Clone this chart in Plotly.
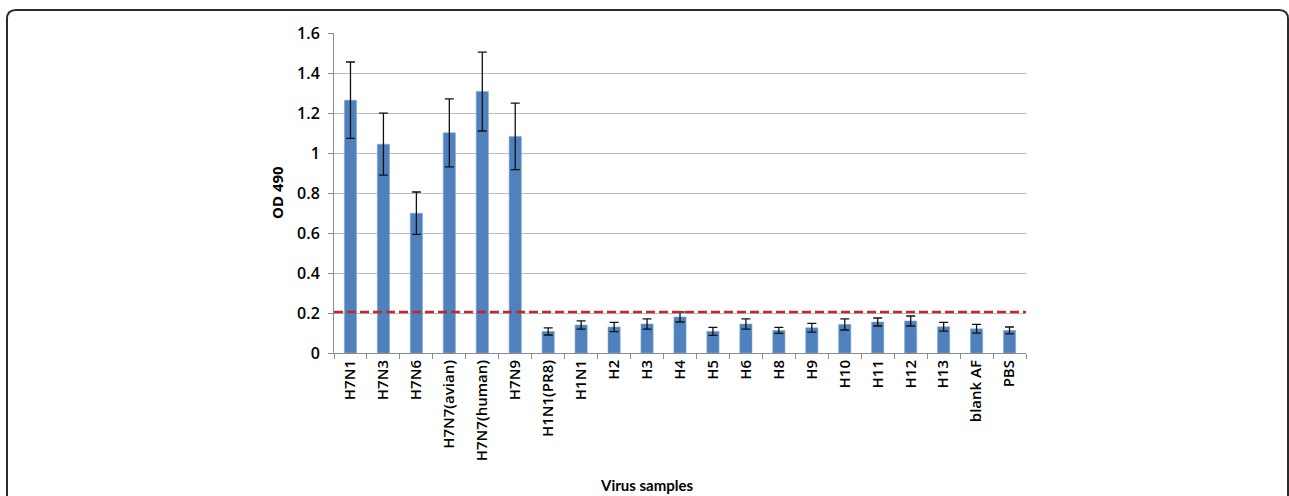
import plotly.graph_objects as go

# Virus samples tested and mean OD490 readings with standard deviations
samples = ["H7N1", "H7N3", "H7N6", "H7N7(avian)", "H7N7(human)", "H7N9",
           "H1N1(PR8)", "H1N1", "H2", "H3", "H4", "H5", "H6", "H8", "H9",
           "H10", "H11", "H12", "H13", "blank AF", "PBS"]
od490 = [1.264, 1.044, 0.699, 1.101, 1.307, 1.083,
         0.108, 0.140, 0.130, 0.145, 0.180, 0.108, 0.145, 0.113, 0.126,
         0.143, 0.155, 0.160, 0.131, 0.121, 0.113]
od490_sd = [0.191, 0.155, 0.106, 0.170, 0.197, 0.166,
            0.018, 0.021, 0.023, 0.026, 0.025, 0.020, 0.026, 0.015, 0.022,
            0.028, 0.020, 0.025, 0.022, 0.022, 0.017]
cutoff = 0.205

y_ticks = [0, 0.2, 0.4, 0.6, 0.8, 1.0, 1.2, 1.4, 1.6]
y_ticktext = ["0", "0.2", "0.4", "0.6", "0.8", "1", "1.2", "1.4", "1.6"]

W, H = 1289, 496
ML, MR, MT, MB = 334, 263, 33, 143
PW, PH = W - ML - MR, H - MT - MB

FONT = "Open Sans, sans-serif"
TITLE_FONT = "Lato, Open Sans, sans-serif"
TXT = "#000000"
AXIS = "#8c8c8c"


def px(x):
    return (x - ML) / PW


def py(y):
    return (H - MB - y) / PH


fig = go.Figure()
fig.add_trace(go.Bar(
    x=samples, y=od490,
    marker=dict(color="#4F81BD", line=dict(color="#86A8D4", width=0.6)),
    error_y=dict(type="data", array=od490_sd, visible=True,
                 color="#111111", thickness=1.3, width=4.5),
    showlegend=False,
))

# positivity cut-off
fig.add_shape(type="line", xref="paper", yref="y", x0=0, x1=1, y0=cutoff, y1=cutoff,
              line=dict(color="#C3272B", width=2.5, dash="9px,4px"), layer="above")

# rounded panel frame
l, t, r, b, rad = 7, 10, 1288, 540, 9
path = (f"M {px(l)},{py(b)} L {px(l)},{py(t + rad)} "
        f"Q {px(l)},{py(t)} {px(l + rad)},{py(t)} "
        f"L {px(r - rad)},{py(t)} "
        f"Q {px(r)},{py(t)} {px(r)},{py(t + rad)} "
        f"L {px(r)},{py(b)}")
fig.add_shape(type="path", xref="paper", yref="paper", path=path,
              line=dict(color="#2b2b2b", width=2))

fig.add_annotation(text="<b>OD 490</b>", xref="paper", yref="paper",
                   x=px(277), y=0.5, textangle=-90, showarrow=False,
                   font=dict(family=FONT, size=15, color=TXT),
                   xanchor="center", yanchor="middle")
fig.add_annotation(text="<b>Virus samples</b>", xref="paper", yref="paper",
                   x=px(647), y=py(485), showarrow=False,
                   font=dict(family=TITLE_FONT, size=15, color=TXT),
                   xanchor="center", yanchor="middle")

fig.update_layout(
    width=W, height=H,
    margin=dict(l=ML, r=MR, t=MT, b=MB),
    paper_bgcolor="white", plot_bgcolor="white",
    bargap=0.63,
    font=dict(family=FONT, size=15, color=TXT),
    xaxis=dict(
        type="category", tickangle=-90, showline=True, linecolor=AXIS, linewidth=1,
        ticks="outside", tickson="boundaries", ticklen=5, tickcolor=AXIS,
        showgrid=False, tickfont=dict(family=FONT, size=15, color=TXT, weight=600),
    ),
    yaxis=dict(
        range=[0, 1.6], tickvals=y_ticks, ticktext=y_ticktext,
        showline=True, linecolor=AXIS, linewidth=1,
        ticks="outside", ticklen=5, tickcolor=AXIS, ticklabelstandoff=5,
        showgrid=True, gridcolor="#BDBDBD", gridwidth=1, zeroline=False,
        tickfont=dict(family=FONT, size=16, color=TXT, weight=600),
    ),
)

fig.write_html("out.html")
